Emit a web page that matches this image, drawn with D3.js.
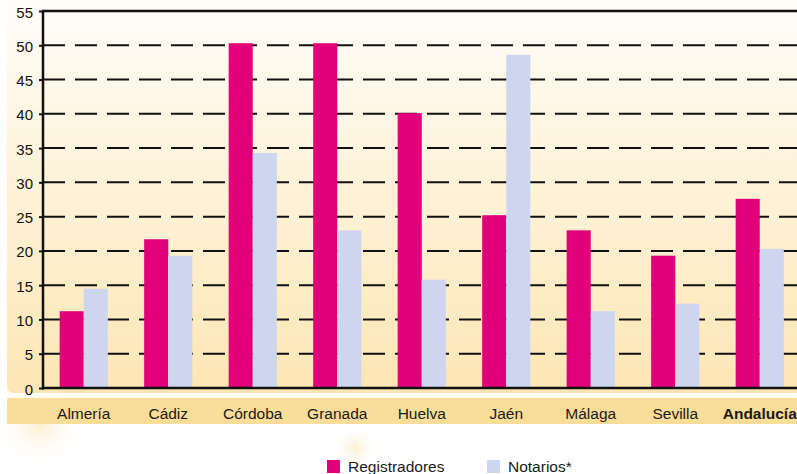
<!DOCTYPE html>
<html>
<head>
<meta charset="utf-8">
<script src="https://cdn.jsdelivr.net/npm/d3@7"></script>
<style>
html,body{margin:0;padding:0;background:#fff;}
svg{display:block;font-family:"Liberation Sans",Arial,sans-serif;}
</style>
</head>
<body>
<svg id="chart" width="797" height="474"></svg>
<script>
const categories = ["Almería","Cádiz","Córdoba","Granada","Huelva","Jaén","Málaga","Sevilla","Andalucía"];
const registradores = [11.2, 21.7, 50.3, 50.3, 40.1, 25.2, 23.0, 19.3, 27.6];
const notarios = [14.5, 19.3, 34.3, 23.0, 15.8, 48.6, 11.2, 12.3, 20.3];
const seriesNames = ["Registradores","Notarios*"];
const seriesColors = ["#E2007A","#CED6EF"];
const yTicks = [0,5,10,15,20,25,30,35,40,45,50,55];

const svg = d3.select("#chart");
const W = 797, H = 474;
const x0 = 43, yTop = 11, yBase = 388;

const defs = svg.append("defs");
const grad = defs.append("linearGradient").attr("id","bg").attr("x1",0).attr("x2",0).attr("y1",0).attr("y2",1);
grad.append("stop").attr("offset","0%").attr("stop-color","#FFFDF9");
grad.append("stop").attr("offset","100%").attr("stop-color","#FDE6B4");
const rg = defs.append("radialGradient").attr("id","blob");
rg.append("stop").attr("offset","0%").attr("stop-color","#FDEBC6").attr("stop-opacity",0.8);
rg.append("stop").attr("offset","100%").attr("stop-color","#FFFFFF").attr("stop-opacity",0);

// decorative blobs
svg.append("circle").attr("cx",40).attr("cy",425).attr("r",45).attr("fill","url(#blob)");
svg.append("circle").attr("cx",355).attr("cy",448).attr("r",22).attr("fill","url(#blob)");

// background plot area
svg.append("rect").attr("x",7).attr("y",0).attr("width",W).attr("height",393).attr("rx",6).attr("fill","url(#bg)");
// label band
svg.append("rect").attr("x",7).attr("y",398).attr("width",W).attr("height",26).attr("fill","#FADD98");

const x = d3.scaleBand().domain(categories).range([41.5, 802]).paddingInner(0.43).paddingOuter(0.215);
const xs = d3.scaleBand().domain(seriesNames).range([0, x.bandwidth()]);
const y = d3.scaleLinear().domain([0,55]).range([yBase, yTop]);

// gridlines
svg.append("g").selectAll("line").data(yTicks.filter(d => d>0 && d<55)).join("line")
  .attr("x1", x0).attr("x2", W).attr("y1", d=>y(d)).attr("y2", d=>y(d))
  .attr("stroke","#111").attr("stroke-width",2).attr("stroke-dasharray","22,10");

// bars
const groups = svg.append("g").selectAll("g").data(categories).join("g")
  .attr("transform", d => `translate(${x(d)},0)`);
groups.selectAll("rect").data((d,i) => [
    {s: seriesNames[0], v: registradores[i], c: seriesColors[0]},
    {s: seriesNames[1], v: notarios[i], c: seriesColors[1]}])
  .join("rect")
  .attr("x", d => xs(d.s)).attr("width", xs.bandwidth())
  .attr("y", d => y(d.v)).attr("height", d => yBase - y(d.v))
  .attr("fill", d => d.c);

// y axis
const yAxis = d3.axisLeft(y).tickValues(yTicks).tickSize(4).tickPadding(6);
const ga = svg.append("g").attr("transform",`translate(${x0},0)`).call(yAxis);
ga.select(".domain").remove();
ga.selectAll(".tick line").attr("stroke","#111").attr("stroke-width",2);
ga.selectAll(".tick text").attr("font-size","15px").attr("fill","#111").attr("dy","0.4em")
  .attr("font-family","Liberation Sans, Arial, sans-serif");

svg.append("line").attr("x1",x0).attr("x2",x0).attr("y1",yTop-1).attr("y2",yBase+1.5).attr("stroke","#111").attr("stroke-width",2.5);
svg.append("line").attr("x1",x0-1).attr("x2",W).attr("y1",yTop).attr("y2",yTop).attr("stroke","#111").attr("stroke-width",2.5);
svg.append("line").attr("x1",x0-1).attr("x2",W).attr("y1",yBase).attr("y2",yBase).attr("stroke","#111").attr("stroke-width",2.5);

// x labels
const xAxis = d3.axisBottom(x).tickSize(0).tickPadding(0);
const gx = svg.append("g").attr("transform",`translate(0,404)`).call(xAxis);
gx.select(".domain").remove();
gx.selectAll(".tick text").attr("font-size","15.5px").attr("fill","#1a1a1a").attr("dy","0.95em")
  .attr("font-family","Liberation Sans, Arial, sans-serif")
  .attr("font-weight", d => d === "Andalucía" ? "bold" : "normal");

// legend
const legX = [327, 487];
const leg = svg.append("g").selectAll("g").data(seriesNames).join("g")
  .attr("transform",(d,i)=>`translate(${legX[i]},460)`);
leg.append("rect").attr("width",13).attr("height",13).attr("fill",(d,i)=>seriesColors[i]);
leg.append("text").attr("x",21).attr("y",11.5).attr("font-size","15.5px").attr("fill","#1a1a1a").text(d=>d);
</script>
</body>
</html>
